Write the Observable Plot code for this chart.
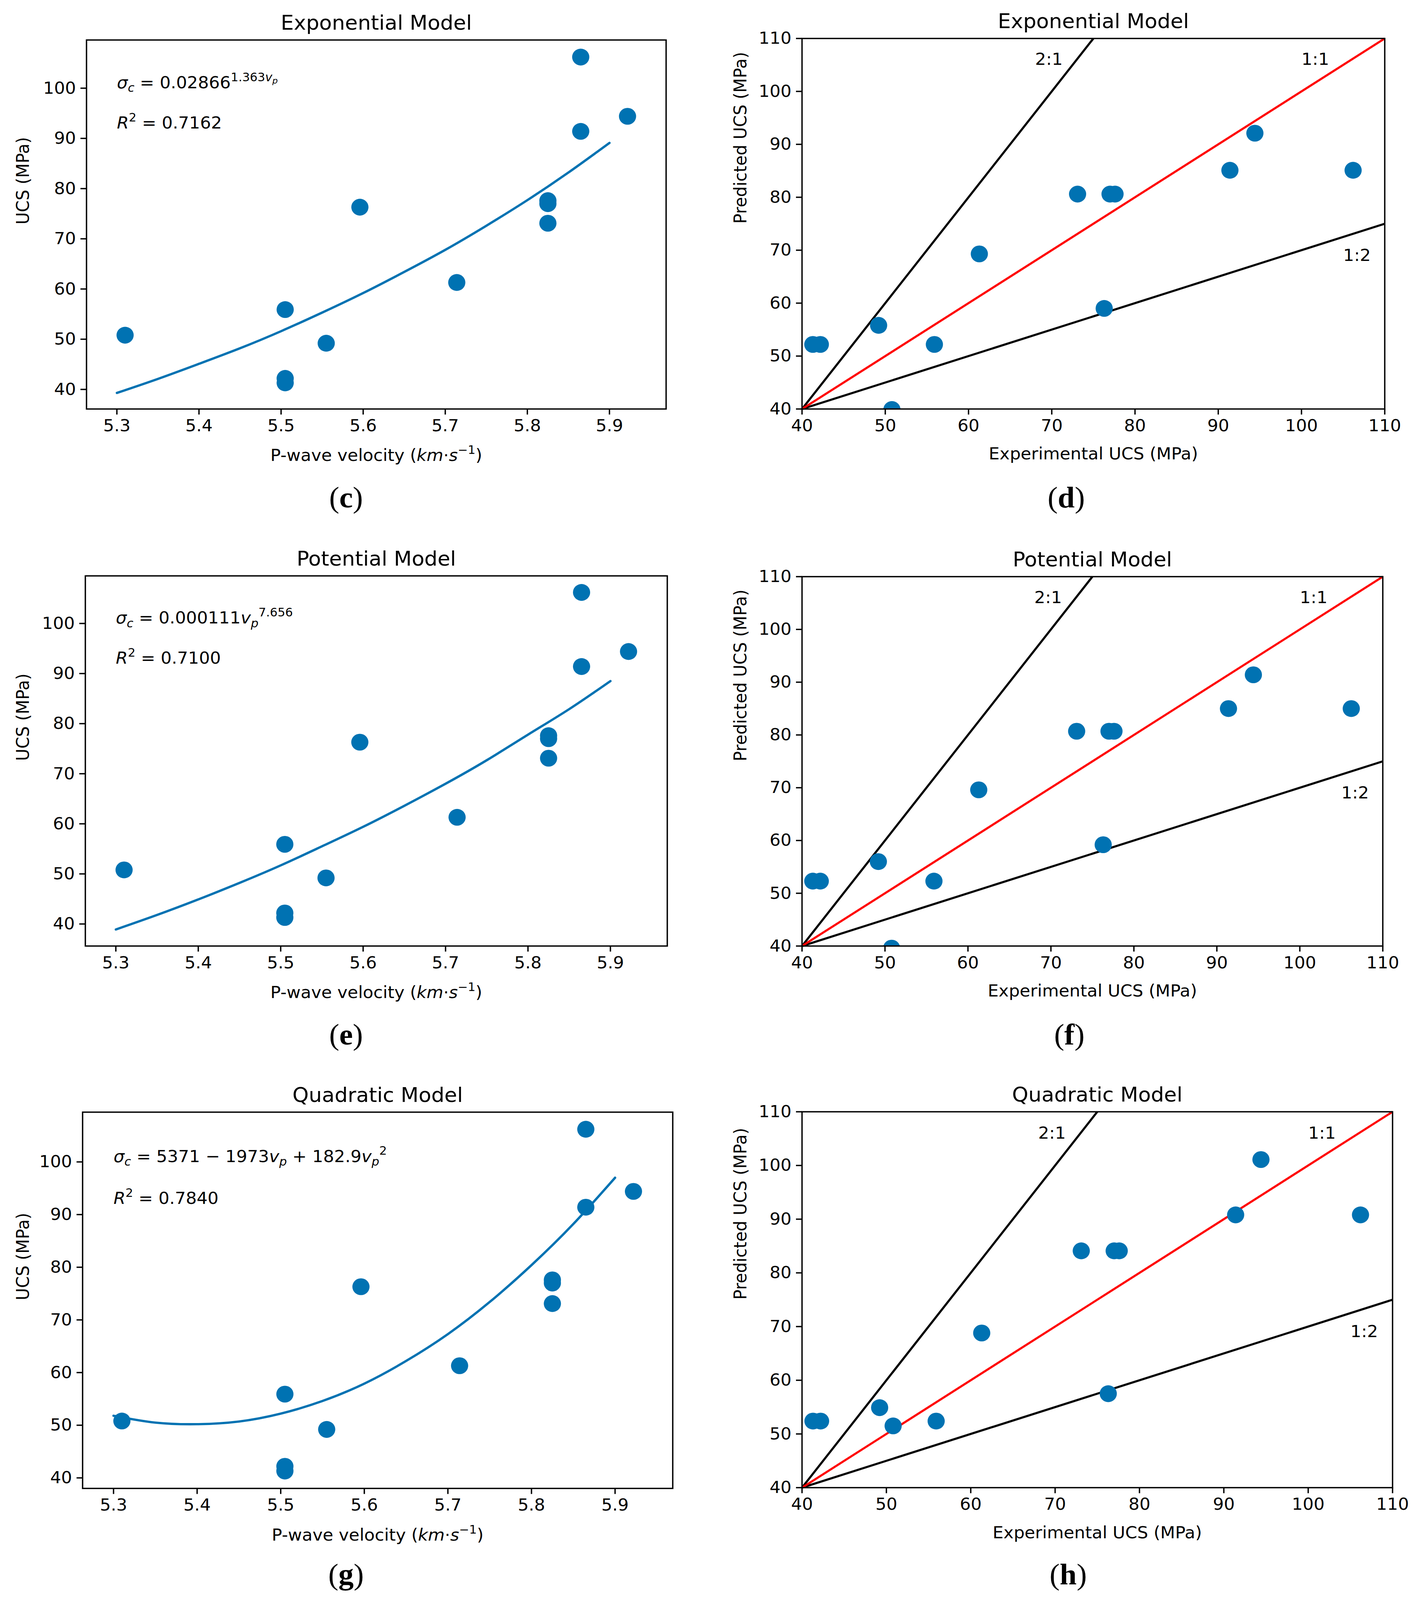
<!DOCTYPE html>
<html><head><meta charset="utf-8">
<script src="https://cdn.jsdelivr.net/npm/d3@7"></script>
<script src="https://cdn.jsdelivr.net/npm/@observablehq/plot@0.6"></script>
<style>
html,body{margin:0;padding:0;background:#fff;overflow:hidden;}
#root{position:relative;width:3646px;height:4180px;background:#fff;overflow:hidden;transform-origin:0 0;}
.panel{position:absolute;}
.plabel{position:absolute;font-family:"Liberation Serif","DejaVu Serif",serif;font-size:78px;line-height:1;color:#000;transform:translate(-50%,-50%);white-space:nowrap;}
.plabel b{font-weight:bold;}
</style></head><body><div id="root"></div>
<script>
// ---- data ----
const velocity        = [5.310, 5.505, 5.505, 5.505, 5.555, 5.596, 5.714, 5.825, 5.825, 5.825, 5.865, 5.865, 5.922];
const experimentalUCS = [50.8, 55.9, 42.2, 41.3, 49.2, 76.3, 61.3, 77.0, 77.6, 73.1, 106.2, 91.4, 94.4];
const predictedExp    = [39.9, 52.2, 52.2, 52.2, 55.8, 59.0, 69.3, 80.6, 80.6, 80.6, 85.1, 85.1, 92.1];
const predictedPot    = [39.6, 52.3, 52.3, 52.3, 56.0, 59.2, 69.6, 80.7, 80.7, 80.7, 85.0, 85.0, 91.4];
const predictedQuad   = [51.5, 52.4, 52.4, 52.4, 54.9, 57.5, 68.8, 84.1, 84.1, 84.1, 90.8, 90.8, 101.1];

const curveVelocity = [5.30, 5.35, 5.40, 5.45, 5.50, 5.55, 5.60, 5.65, 5.70, 5.75, 5.80, 5.85, 5.90];
const curveExp      = [39.3, 42.1, 45.1, 48.2, 51.6, 55.3, 59.2, 63.4, 67.8, 72.6, 77.7, 83.2, 89.1];
const curvePot      = [38.9, 41.8, 44.9, 48.2, 51.7, 55.5, 59.4, 63.6, 68.0, 72.7, 77.8, 82.9, 88.5];
const curveQuad     = [51.8, 50.5, 50.2, 50.7, 52.2, 54.6, 57.9, 62.2, 67.3, 73.4, 80.4, 88.2, 97.0];

const ratioNames   = ["2:1", "1:1", "1:2"];
const ratioOrigin  = [40, 40];
const ratioEndX    = [75, 110, 110];
const ratioEndY    = [110, 110, 75];
const ratioColors  = ["black", "red", "black"];
const ratioLabelX  = [68, 100, 105];
const ratioLabelY  = [105, 105, 68];

const velocityTicks = [5.3, 5.4, 5.5, 5.6, 5.7, 5.8, 5.9];
const ucsTicksFit   = [40, 50, 60, 70, 80, 90, 100];
const ucsTicksComp  = [40, 50, 60, 70, 80, 90, 100, 110];

const modelTitles = ["Exponential Model", "Potential Model", "Quadratic Model"];
const r2Texts     = ["0.7162", "0.7100", "0.7840"];
const panelLetters = ["c", "d", "e", "f", "g", "h"];

const BLUE = "#0072b2";
const FONT = "DejaVu Sans";

// the screenshot shows only the inner viewport; fit the 4180px-tall figure into it
const root = document.getElementById("root");
const vh = window.innerHeight || 4180;
if (vh < 4180) root.style.transform = "scaleY(" + (vh / 4180) + ")";

// rich text helper (sub/superscripts, italics) applied to Plot text elements
const STY = {
  n:{o:0,s:1,i:false}, i:{o:0,s:1,i:true},
  sub:{o:0.22,s:0.7,i:false}, isub:{o:0.22,s:0.7,i:true},
  sup:{o:-0.42,s:0.7,i:false}, isup:{o:-0.42,s:0.7,i:true},
  isupsub:{o:-0.28,s:0.5,i:true}
};
function rich(svg, key, parts, base) {
  const t = Array.from(svg.querySelectorAll("text")).find(e => e.textContent === key);
  if (!t) return;
  while (t.firstChild) t.removeChild(t.firstChild);
  let cur = 0;
  for (const [txt, st] of parts) {
    const s = STY[st];
    const ts = document.createElementNS("http://www.w3.org/2000/svg", "tspan");
    const target = s.o * base;
    ts.setAttribute("dy", (target - cur).toFixed(2));
    cur = target;
    ts.setAttribute("font-size", (s.s * base).toFixed(1));
    if (s.i) ts.setAttribute("font-style", "italic");
    ts.textContent = txt;
    t.appendChild(ts);
  }
}

const FORMULAS = [
  [["σ","i"],["c","isub"],[" = 0.02866","n"],["1.363","sup"],["v","isup"],["p","isupsub"]],
  [["σ","i"],["c","isub"],[" = 0.000111","n"],["v","i"],["p","isub"],["7.656","sup"]],
  [["σ","i"],["c","isub"],[" = 5371 − 1973","n"],["v","i"],["p","isub"],[" + 182.9","n"],["v","i"],["p","isub"],["2","sup"]]
];
const XLABEL = [["P-wave velocity (","n"],["km","i"],["·","n"],["s","i"],["−1","sup"],[")","n"]];

function place(svg, left, top) {
  const d = document.createElement("div");
  d.className = "panel";
  d.style.left = left + "px"; d.style.top = top + "px";
  d.appendChild(svg);
  root.appendChild(d);
}

function axes(xt, yt, xfmt) {
  return [
    Plot.axisX({ticks: xt, tickFormat: xfmt, tickSize: 15, tickPadding: 12, strokeWidth: 3.5, fontSize: 44, label: null}),
    Plot.axisY({ticks: yt, tickFormat: d => String(d), tickSize: 15, tickPadding: 12, strokeWidth: 3.5, fontSize: 44, label: null})
  ];
}

// fit panels (c, e, g)
function fitPanel(k, curveVals, yDomain, box, frame) {
  const pts = velocity.map((v, i) => ({v, u: experimentalUCS[i]}));
  const cv = curveVelocity.map((v, i) => ({v, u: curveVals[i]}));
  const plot = Plot.plot({
    width: box.w, height: box.h,
    marginLeft: frame.L - box.x, marginRight: box.x + box.w - frame.R,
    marginTop: frame.T - box.y, marginBottom: box.y + box.h - frame.B,
    x: {domain: [5.263, 5.969]}, y: {domain: yDomain},
    style: {fontFamily: FONT, fontSize: "44px", color: "#000", background: "transparent", overflow: "visible"},
    marks: [
      ...axes(velocityTicks, ucsTicksFit, d => d.toFixed(1)),
      Plot.line(cv, {x: "v", y: "u", stroke: BLUE, strokeWidth: 6, curve: "natural"}),
      Plot.dot(pts, {x: "v", y: "u", r: 22, fill: BLUE, stroke: "none", clip: true}),
      Plot.frame({stroke: "#000", strokeWidth: 3.5}),
      Plot.text([modelTitles[k]], {frameAnchor: "top", dy: -27, lineAnchor: "bottom", text: d => d, fontSize: 53}),
      Plot.text(["UCS (MPa)"], {frameAnchor: "left", dx: -(frame.L - 59), rotate: -90, text: d => d, fontSize: 44}),
      Plot.text(["§XL"], {frameAnchor: "bottom", dy: 136, lineAnchor: "bottom", text: d => d, fontSize: 44}),
      Plot.text([{x: 5.3, y: 100}], {x: "x", y: "y", text: () => "§F", textAnchor: "start", lineAnchor: "bottom", fontSize: 44}),
      Plot.text([{x: 5.3, y: 92}], {x: "x", y: "y", text: () => "§R", textAnchor: "start", lineAnchor: "bottom", fontSize: 44})
    ]
  });
  rich(plot, "§XL", XLABEL, 44);
  rich(plot, "§F", FORMULAS[k], 44);
  rich(plot, "§R", [["R","i"],["2","sup"],[" = " + r2Texts[k],"n"]], 44);
  place(plot, box.x, box.y);
}

// comparison panels (d, f, h)
function compPanel(k, predicted, box, frame) {
  const pts = experimentalUCS.map((u, i) => ({e: u, p: predicted[i]}));
  const lines = ratioEndX.map((x, i) => ({x1: ratioOrigin[0], y1: ratioOrigin[1], x2: x, y2: ratioEndY[i], c: ratioColors[i]}));
  const labels = ratioNames.map((n, i) => ({n, x: ratioLabelX[i], y: ratioLabelY[i]}));
  const plot = Plot.plot({
    width: box.w, height: box.h,
    marginLeft: frame.L - box.x, marginRight: box.x + box.w - frame.R,
    marginTop: frame.T - box.y, marginBottom: box.y + box.h - frame.B,
    x: {domain: [40, 110]}, y: {domain: [40, 110]},
    style: {fontFamily: FONT, fontSize: "44px", color: "#000", background: "transparent", overflow: "visible"},
    marks: [
      ...axes(ucsTicksComp, ucsTicksComp, d => String(d)),
      Plot.link(lines.filter(d => d.c === "black"), {x1: "x1", y1: "y1", x2: "x2", y2: "y2", stroke: "black", strokeWidth: 5.5}),
      Plot.link(lines.filter(d => d.c === "red"), {x1: "x1", y1: "y1", x2: "x2", y2: "y2", stroke: "red", strokeWidth: 5.5}),
      Plot.dot(pts, {x: "e", y: "p", r: 22, fill: BLUE, stroke: "none", clip: true}),
      Plot.text(labels, {x: "x", y: "y", text: "n", textAnchor: "start", lineAnchor: "bottom", fontSize: 44}),
      Plot.frame({stroke: "#000", strokeWidth: 3.5}),
      Plot.text([modelTitles[k]], {frameAnchor: "top", dy: -27, lineAnchor: "bottom", text: d => d, fontSize: 53}),
      Plot.text(["Predicted UCS (MPa)"], {frameAnchor: "left", dx: -(frame.L - 1896), rotate: -90, text: d => d, fontSize: 44}),
      Plot.text(["Experimental UCS (MPa)"], {frameAnchor: "bottom", dy: 132, lineAnchor: "bottom", text: d => d, fontSize: 44})
    ]
  });
  place(plot, box.x, box.y);
}

// layout (pixel boxes, in reference-figure pixels)
fitPanel(0, curveExp,  [36.1, 109.6], {x: 0, y: 0,    w: 1823, h: 1250}, {L: 221, R: 1705, T: 104,  B: 1068});
fitPanel(1, curvePot,  [35.6, 109.5], {x: 0, y: 1400, w: 1823, h: 1250}, {L: 218, R: 1708, T: 1504, B: 2471});
fitPanel(2, curveQuad, [38.0, 109.45],{x: 0, y: 2800, w: 1823, h: 1250}, {L: 211, R: 1722, T: 2905, B: 3888});
compPanel(0, predictedExp,  {x: 1823, y: 0,    w: 1823, h: 1250}, {L: 2053, R: 3545, T: 100,  B: 1068});
compPanel(1, predictedPot,  {x: 1823, y: 1400, w: 1823, h: 1250}, {L: 2053, R: 3540, T: 1506, B: 2471});
compPanel(2, predictedQuad, {x: 1823, y: 2800, w: 1823, h: 1250}, {L: 2053, R: 3565, T: 2904, B: 3886});

// panel captions
const capX = [886, 2730, 886, 2738, 886, 2735];
const capY = [1300, 1300, 2703, 2703, 4113, 4113];
panelLetters.forEach((l, i) => {
  const d = document.createElement("div");
  d.className = "plabel";
  d.style.left = capX[i] + "px"; d.style.top = capY[i] + "px";
  d.innerHTML = "(<b>" + l + "</b>)";
  root.appendChild(d);
});
</script></body></html>
